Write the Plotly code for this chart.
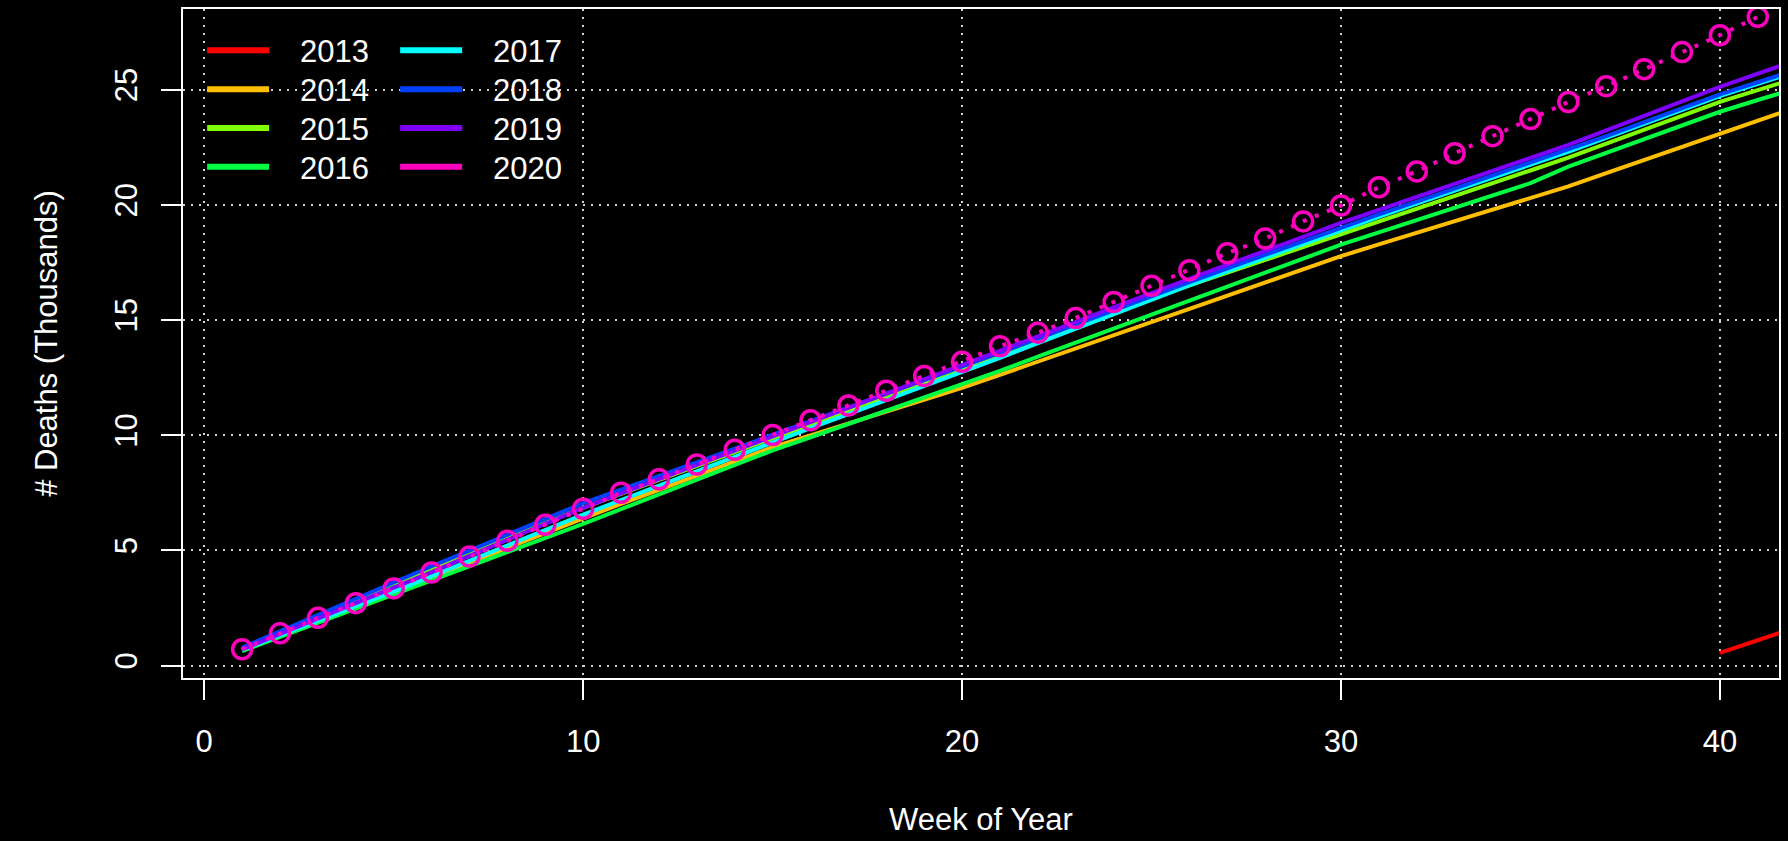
import plotly.graph_objects as go

weeks = list(range(1, 43))

y2013_weeks = [40, 41, 42]
y2013 = [0.55, 1.10, 1.65]

y2014 = [0.66, 1.30, 1.93, 2.57, 3.20, 3.84, 4.48, 5.12, 5.76, 6.40,
         7.02, 7.63, 8.25, 8.86, 9.48, 9.99, 10.51, 11.02, 11.54, 12.05,
         12.62, 13.19, 13.75, 14.32, 14.89, 15.47, 16.04, 16.62, 17.19, 17.77,
         18.28, 18.78, 19.29, 19.79, 20.30, 20.80, 21.38, 21.95, 22.53, 23.10,
         23.66, 24.22]
y2015 = [0.72, 1.42, 2.11, 2.81, 3.50, 4.17, 4.84, 5.51, 6.18, 6.85,
         7.45, 8.05, 8.65, 9.25, 9.85, 10.45, 11.05, 11.65, 12.25, 12.85,
         13.47, 14.09, 14.71, 15.33, 15.95, 16.50, 17.05, 17.60, 18.15, 18.70,
         19.26, 19.82, 20.38, 20.93, 21.49, 22.05, 22.66, 23.26, 23.87, 24.47,
         24.98, 25.49]
y2016 = [0.63, 1.24, 1.85, 2.46, 3.07, 3.69, 4.30, 4.92, 5.53, 6.15,
         6.79, 7.43, 8.06, 8.70, 9.34, 9.91, 10.48, 11.04, 11.61, 12.18,
         12.79, 13.41, 14.02, 14.64, 15.25, 15.85, 16.46, 17.06, 17.67, 18.27,
         18.80, 19.34, 19.87, 20.41, 20.94, 21.66, 22.26, 22.85, 23.45, 24.04,
         24.55, 25.05]
y2017 = [0.68, 1.31, 1.95, 2.58, 3.21, 3.88, 4.55, 5.21, 5.88, 6.55,
         7.18, 7.81, 8.44, 9.07, 9.70, 10.31, 10.91, 11.52, 12.12, 12.73,
         13.36, 14.00, 14.63, 15.27, 15.90, 16.50, 17.11, 17.71, 18.32, 18.92,
         19.48, 20.05, 20.61, 21.17, 21.74, 22.30, 22.91, 23.51, 24.12, 24.72,
         25.25, 25.78]
y2018 = [0.78, 1.49, 2.20, 2.91, 3.62, 4.31, 4.99, 5.68, 6.36, 7.05,
         7.64, 8.23, 8.82, 9.41, 10.00, 10.59, 11.18, 11.77, 12.36, 12.95,
         13.57, 14.19, 14.81, 15.43, 16.05, 16.64, 17.24, 17.83, 18.43, 19.02,
         19.58, 20.14, 20.70, 21.26, 21.82, 22.38, 22.98, 23.59, 24.19, 24.79,
         25.32, 25.85]
y2019 = [0.70, 1.37, 2.03, 2.70, 3.36, 4.06, 4.76, 5.45, 6.15, 6.85,
         7.47, 8.09, 8.71, 9.33, 9.95, 10.56, 11.17, 11.78, 12.40, 13.01,
         13.64, 14.28, 14.91, 15.55, 16.18, 16.79, 17.40, 18.00, 18.61, 19.22,
         19.78, 20.35, 20.91, 21.47, 22.04, 22.60, 23.23, 23.86, 24.49, 25.12,
         25.69, 26.26]

weeks_2020 = list(range(1, 42))
y2020 = [0.71, 1.40, 2.07, 2.71, 3.35, 4.04, 4.73, 5.42, 6.11, 6.81,
         7.50, 8.09, 8.73, 9.37, 10.01, 10.65, 11.29, 11.93, 12.57, 13.19,
         13.86, 14.45, 15.09, 15.78, 16.49, 17.16, 17.90, 18.54, 19.28, 19.97,
         20.76, 21.45, 22.24, 22.98, 23.72, 24.46, 25.15, 25.89, 26.63, 27.36,
         28.16]

years = ["2013", "2014", "2015", "2016", "2017", "2018", "2019", "2020"]
colors = ["#FF0000", "#FFBF00", "#80FF00", "#00FF40",
          "#00FFFF", "#0040FF", "#8000FF", "#FF00BF"]

x_ticks = [0, 10, 20, 30, 40]
y_ticks = [0, 5, 10, 15, 20, 25]

FONT = "Liberation Sans, Arial, Helvetica, sans-serif"
FS = 31
NB = "\u00a0\u00a0\u00a0"

fig = go.Figure()

series = [
    (y2013_weeks, y2013),
    (weeks, y2014), (weeks, y2015), (weeks, y2016), (weeks, y2017),
    (weeks, y2018), (weeks, y2019),
]
for (xs, ys), name, col in zip(series, years[:7], colors[:7]):
    fig.add_trace(go.Scatter(
        x=xs, y=ys, mode="lines", name=name, showlegend=False,
        line=dict(color=col, width=4),
    ))

fig.add_trace(go.Scatter(
    x=weeks_2020, y=y2020, mode="lines+markers", name="2020", showlegend=False,
    line=dict(color=colors[7], width=4, dash="4px,9px"),
    marker=dict(symbol="circle-open", size=19, line=dict(color=colors[7], width=3.5)),
))

# legend: one horizontal legend per row, two entries each (column-major like the reference)
legend_names = ["legend", "legend2", "legend3", "legend4"]
for i, (name, col) in enumerate(zip(years, colors)):
    fig.add_trace(go.Scatter(
        x=[None], y=[None], mode="lines", name=NB + name,
        line=dict(color=col, width=6),
        legend=legend_names[i % 4],
        showlegend=True,
    ))

axis_common = dict(
    showline=True, mirror=True, linecolor="white", linewidth=2,
    ticks="outside", ticklen=20, tickwidth=1.5, tickcolor="white",
    showgrid=True, gridcolor="#D3D3D3", gridwidth=1.5, griddash="2px,6px",
    zeroline=False,
    tickfont=dict(family=FONT, size=FS, color="white"),
)

row_top = [0.978, 0.920, 0.862, 0.804]
legends = {}
for k, ln in enumerate(legend_names):
    legends[ln] = dict(
        x=0.012, y=row_top[k], xanchor="left", yanchor="top",
        orientation="h", entrywidth=116, entrywidthmode="pixels",
        bgcolor="rgba(0,0,0,0)", borderwidth=0,
        font=dict(family=FONT, size=FS, color="white"),
        itemwidth=62,
    )

fig.update_layout(
    width=1788, height=841,
    paper_bgcolor="black", plot_bgcolor="black",
    margin=dict(l=183, r=8, t=7, b=163),
    font=dict(family=FONT, size=FS, color="white"),
    xaxis=dict(
        range=[-0.56, 41.56], tickmode="array", tickvals=x_ticks,
        title=dict(text="Week of Year", font=dict(family=FONT, size=FS, color="white"), standoff=50),
        ticklabelstandoff=15,
        **axis_common,
    ),
    yaxis=dict(
        range=[-0.54, 28.5], tickmode="array", tickvals=y_ticks,
        tickangle=-90,
        title=dict(text="# Deaths (Thousands)", font=dict(family=FONT, size=FS, color="white"), standoff=42),
        ticklabelstandoff=12,
        **axis_common,
    ),
    **legends,
)

fig.write_html(
    "out.html",
    config={"displayModeBar": False},
    post_script="document.body.style.margin='0';document.body.style.background='black';",
)
